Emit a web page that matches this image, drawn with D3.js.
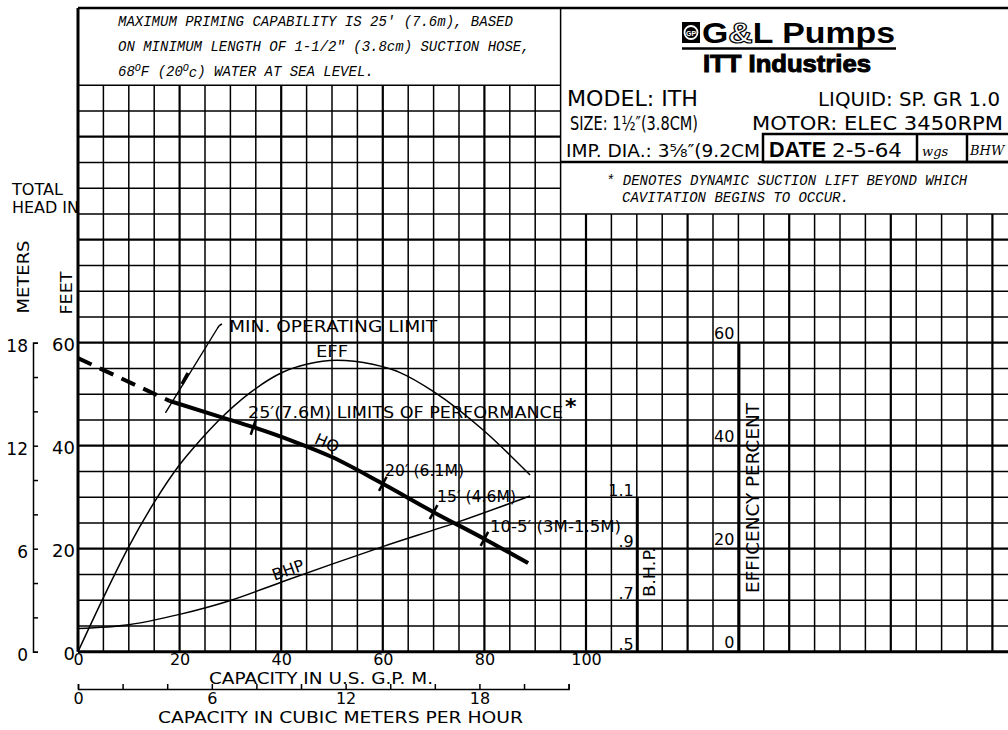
<!DOCTYPE html>
<html>
<head>
<meta charset="utf-8">
<script src="https://cdn.jsdelivr.net/npm/d3@7"></script>
<style>
  body { margin: 0; background: #fff; }
  text { fill: #000; }
</style>
</head>
<body>
<svg id="chart"></svg>
<script>
// ---- data ----
const hqDashGpm = [0, 18];
const hqDashFeet = [57, 48.7];
const hqGpm = [18, 28, 34.5, 42, 50, 60, 70, 80, 88.6];
const hqFeet = [48.7, 45.6, 43.6, 41.0, 37.8, 32.6, 27.1, 21.9, 17.2];
const effGpm = [0, 5, 10, 15, 20, 24, 27.3, 33.9, 40.4, 45, 50.9, 58, 63.4, 70, 79.8, 89];
const effPct = [0, 10.5, 20.4, 29, 36.3, 41, 44.5, 50.3, 54.3, 55.8, 56.6, 55.8, 54.2, 50.5, 43, 34.3];
const bhpGpm = [0, 10, 20, 30, 40, 50, 60, 75, 89];
const bhpHp = [0.59, 0.605, 0.645, 0.699, 0.77, 0.84, 0.908, 1.005, 1.105];
const limitGpm = [34.5, 60, 70, 80];   // suction lift marks on H-Q

const gpmTicks = [0, 20, 40, 60, 80, 100];
const feetTicks = [0, 20, 40, 60];
const meterTicks = [0, 2, 4, 6, 8, 10, 12, 14, 16, 18];
const meterLabels = [0, 6, 12, 18];
const m3Ticks = [0, 2, 4, 6, 8, 10, 12, 14, 16, 18, 20, 22];
const m3Labels = [0, 6, 12, 18];
const bhpTicks = [0.5, 0.7, 0.9, 1.1];
const effTicks = [0, 20, 40, 60];

const W = 1008, H = 730;
const LET = '"DejaVu Sans", sans-serif';
const MONO = '"Liberation Mono", monospace';

const svg = d3.select('#chart').attr('width', W).attr('height', H);
svg.append('rect').attr('width', W).attr('height', H).attr('fill', '#fff');

// scales
const x = d3.scaleLinear().domain([0, 100]).range([78, 586]);
const y = d3.scaleLinear().domain([0, 60]).range([651.7, 342.7]);
const yM = d3.scaleLinear().domain([0, 18]).range([y(0), y(60)]);
const yHp = d3.scaleLinear().domain([0.5, 1.1]).range([y(0), y(30)]);
const xM3 = d3.scaleLinear().domain([0, 22]).range([x(0), x(22 * 4.39)]);

// ---- graph paper ----
const grid = svg.append('g').attr('stroke', '#000').attr('fill', 'none');
d3.range(0, 37).forEach(c => {
  let top = c === 0 || c === 19 ? 125 : (c < 19 ? 110 : 85);
  grid.append('line')
    .attr('x1', x(c * 5)).attr('x2', x(c * 5))
    .attr('y1', y(0)).attr('y2', y(top))
    .attr('stroke-width', c === 0 ? 3 : (c % 4 === 0 ? 2.2 : 1.5));
});
d3.range(0, 26).forEach(r => {
  if (r === 23 || r === 24) return;
  let right = (r <= 17 || r === 25) ? W : x(95);
  grid.append('line')
    .attr('x1', x(0)).attr('x2', right)
    .attr('y1', y(r * 5)).attr('y2', y(r * 5))
    .attr('stroke-width', r === 0 ? 3 : (r === 25 ? 2.5 : (r % 4 === 0 ? 2.2 : 1.5)));
});

// ---- note box ----
const note = svg.append('g').attr('font-family', MONO).attr('font-style', 'italic').attr('font-size', 14);
note.append('text').attr('x', 118).attr('y', 26).text("MAXIMUM PRIMING CAPABILITY IS 25' (7.6m), BASED");
note.append('text').attr('x', 118).attr('y', 51).text('ON MINIMUM LENGTH OF 1-1/2" (3.8cm) SUCTION HOSE,');
let l3 = note.append('text').attr('x', 118).attr('y', 76);
l3.append('tspan').text('68');
l3.append('tspan').attr('dy', -5).attr('font-size', 10).text('O');
l3.append('tspan').attr('dy', 5).text('F (20');
l3.append('tspan').attr('dy', -5).attr('font-size', 10).text('O');
l3.append('tspan').attr('dy', 6).text('c');
l3.append('tspan').attr('dy', -1).text(') WATER AT SEA LEVEL.');

// ---- title block ----
const tb = svg.append('g');
// logo icon
tb.append('rect').attr('x', 682).attr('y', 22).attr('width', 18).attr('height', 21).attr('fill', '#000');
tb.append('circle').attr('cx', 691).attr('cy', 32.5).attr('r', 6.5).attr('fill', 'none').attr('stroke', '#fff').attr('stroke-width', 1.8);
tb.append('text').attr('x', 691).attr('y', 35.5).attr('text-anchor', 'middle')
  .attr('font-family', '"Liberation Sans", sans-serif').attr('font-size', 7).attr('font-weight', 'bold')
  .style('fill', '#fff').text('GP');
let logo = tb.append('text').attr('x', 702).attr('y', 43)
  .attr('font-family', '"Liberation Sans", Arial, sans-serif').attr('font-weight', 'bold').attr('font-size', 30)
  .attr('textLength', 193).attr('lengthAdjust', 'spacingAndGlyphs');
logo.append('tspan').text('G');
logo.append('tspan').style('fill', '#fff').attr('stroke', '#000').attr('stroke-width', 1.2).text('&');
logo.append('tspan').text('L Pumps');
tb.append('line').attr('x1', 682).attr('x2', 896).attr('y1', 48.5).attr('y2', 48.5).attr('stroke', '#000').attr('stroke-width', 2.5);
tb.append('text').attr('x', 703).attr('y', 72)
  .attr('font-family', '"Liberation Sans", Arial, sans-serif').attr('font-weight', 'bold').attr('font-size', 24)
  .attr('stroke', '#000').attr('stroke-width', 1)
  .attr('textLength', 168).attr('lengthAdjust', 'spacingAndGlyphs').text('ITT Industries');

// spec lines
const specs = [
  // [text, x, baseline, font size, width]
  ['MODEL: ITH', 567, 106, 22, 131],
  ['LIQUID: SP. GR 1.0', 818, 106, 20, 182],
  ['SIZE: 1½″(3.8CM)', 570, 130, 20, 128],
  ['MOTOR: ELEC  3450RPM', 752, 130, 20, 251],
  ['IMP. DIA.: 3⅝″(9.2CM', 566, 157, 17.5, 194]
];
const tbt = tb.append('g').attr('font-family', LET);
specs.forEach(([t, sx, sy, fs, w]) => {
  tbt.append('text').attr('x', sx).attr('y', sy).attr('font-size', fs)
    .attr('textLength', w).attr('lengthAdjust', 'spacingAndGlyphs').text(t);
});

// date box
const db = tb.append('g').attr('stroke', '#000').attr('fill', 'none');
db.append('rect').attr('x', 763).attr('y', 134).attr('width', W - 763 + 5).attr('height', 28).attr('stroke-width', 2.5);
db.append('line').attr('x1', 917).attr('x2', 917).attr('y1', 134).attr('y2', 162).attr('stroke-width', 2.5);
db.append('line').attr('x1', 967).attr('x2', 967).attr('y1', 134).attr('y2', 162).attr('stroke-width', 2.5);
tb.append('text').attr('x', 769).attr('y', 157).attr('font-family', '"Liberation Sans", sans-serif')
  .attr('font-weight', 'bold').attr('font-size', 22).attr('textLength', 57).attr('lengthAdjust', 'spacingAndGlyphs').text('DATE');
tb.append('text').attr('x', 832).attr('y', 157).attr('font-family', LET).attr('font-size', 20)
  .attr('textLength', 70).attr('lengthAdjust', 'spacingAndGlyphs').text('2-5-64');
tb.append('text').attr('x', 922).attr('y', 156).attr('font-family', '"DejaVu Serif", serif')
  .attr('font-style', 'italic').attr('font-size', 13).text('wgs');
tb.append('text').attr('x', 970).attr('y', 155).attr('font-family', '"DejaVu Serif", serif')
  .attr('font-style', 'italic').attr('font-size', 13).text('BHW');
tb.append('line').attr('x1', x(95)).attr('x2', W).attr('y1', 162).attr('y2', 162).attr('stroke', '#000').attr('stroke-width', 2.5);

const star = tb.append('g').attr('font-family', MONO).attr('font-style', 'italic').attr('font-size', 14);
star.append('text').attr('x', 606).attr('y', 185).text('* DENOTES DYNAMIC SUCTION LIFT BEYOND WHICH');
star.append('text').attr('x', 622).attr('y', 202).text('CAVITATION BEGINS TO OCCUR.');

// ---- axes ----
function styleAxis(sel, size) {
  sel.attr('font-family', LET).attr('font-size', size);
  sel.selectAll('text').style('fill', '#000');
  sel.selectAll('path, line').attr('stroke', '#000');
}

// meters
svg.append('g').attr('transform', 'translate(33,0)')
  .call(d3.axisLeft(yM).tickValues(meterTicks).tickSize(-5).tickPadding(5)
    .tickFormat(d => meterLabels.includes(d) ? d : ''))
  .call(s => styleAxis(s, 17))
  .call(s => s.selectAll('path, line').attr('stroke-width', 1.5))
  .call(s => s.selectAll('text').attr('dy', '0.5em'));

// feet
svg.append('g').attr('transform', `translate(${x(0)},0)`)
  .call(d3.axisLeft(y).tickValues(feetTicks).tickSize(0).tickPadding(3))
  .call(s => s.select('.domain').remove())
  .call(s => styleAxis(s, 18))
  .call(s => s.selectAll('text').attr('dy', '0.45em'));

// gpm
svg.append('g').attr('transform', `translate(0,${y(0)})`)
  .call(d3.axisBottom(x).tickValues(gpmTicks).tickSize(0).tickPadding(2))
  .call(s => s.select('.domain').remove())
  .call(s => styleAxis(s, 16));

// cubic meters per hour
svg.append('g').attr('transform', 'translate(0,689)')
  .call(d3.axisBottom(xM3).tickValues(m3Ticks).tickSize(-5).tickPadding(4)
    .tickFormat(d => m3Labels.includes(d) ? d : ''))
  .call(s => styleAxis(s, 16))
  .call(s => s.selectAll('path, line').attr('stroke-width', 1.5));

// bhp scale
svg.append('g').attr('transform', `translate(${x(110)},0)`)
  .call(d3.axisLeft(yHp).tickValues(bhpTicks).tickSize(0).tickPadding(3)
    .tickFormat(d => d === 1.1 ? '1.1' : d3.format('.1f')(d).slice(1)))
  .call(s => styleAxis(s, 16))
  .call(s => s.select('.domain').attr('stroke-width', 3))
  .call(s => s.selectAll('text').attr('dy', '-0.12em'));

// efficiency scale
svg.append('g').attr('transform', `translate(${x(130)},0)`)
  .call(d3.axisLeft(y).tickValues(effTicks).tickSize(0).tickPadding(4))
  .call(s => styleAxis(s, 16))
  .call(s => s.select('.domain').attr('stroke-width', 3))
  .call(s => s.selectAll('text').attr('dy', '-0.25em'));

// axis titles
const lab = svg.append('g').attr('font-family', LET).attr('font-size', 16);
lab.append('text').attr('x', 12).attr('y', 195).attr('textLength', 51).attr('lengthAdjust', 'spacingAndGlyphs').text('TOTAL');
lab.append('text').attr('x', 12).attr('y', 213).attr('textLength', 67).attr('lengthAdjust', 'spacingAndGlyphs').text('HEAD IN');
lab.append('text').attr('transform', 'translate(29,277) rotate(-90)').attr('text-anchor', 'middle')
  .attr('textLength', 73).attr('lengthAdjust', 'spacingAndGlyphs').text('METERS');
lab.append('text').attr('transform', 'translate(72,293) rotate(-90)').attr('text-anchor', 'middle')
  .attr('textLength', 43).attr('lengthAdjust', 'spacingAndGlyphs').text('FEET');
lab.append('text').attr('x', 209).attr('y', 684).attr('font-size', 15).attr('textLength', 224).attr('lengthAdjust', 'spacingAndGlyphs').text('CAPACITY  IN  U.S. G.P. M.');
lab.append('text').attr('x', 158).attr('y', 723).attr('textLength', 365).attr('lengthAdjust', 'spacingAndGlyphs').text('CAPACITY IN CUBIC METERS PER HOUR');
lab.append('text').attr('transform', 'translate(655,572) rotate(-90)').attr('text-anchor', 'middle')
  .attr('textLength', 50).attr('lengthAdjust', 'spacingAndGlyphs').text('B.H.P.');
lab.append('text').attr('transform', 'translate(759,498) rotate(-90)').attr('text-anchor', 'middle')
  .attr('font-size', 17).attr('textLength', 190).attr('lengthAdjust', 'spacingAndGlyphs').text('EFFICENCY  PERCENT');

// ---- curves ----
const curves = svg.append('g').attr('fill', 'none').attr('stroke', '#000');
const effLine = d3.line().curve(d3.curveMonotoneX).x((d, i) => x(effGpm[i])).y(d => y(d));
curves.append('path').attr('d', effLine(effPct)).attr('stroke-width', 1.5);
const bhpLine = d3.line().curve(d3.curveMonotoneX).x((d, i) => x(bhpGpm[i])).y(d => yHp(d));
curves.append('path').attr('d', bhpLine(bhpHp)).attr('stroke-width', 1.5);
const hqLine = d3.line().curve(d3.curveMonotoneX).x((d, i) => x(hqGpm[i])).y(d => y(d));
curves.append('path').attr('d', hqLine(hqFeet)).attr('stroke-width', 4);
const dashLine = d3.line().x((d, i) => x(hqDashGpm[i])).y(d => y(d));
curves.append('path').attr('d', dashLine(hqDashFeet)).attr('stroke-width', 4).attr('stroke-dasharray', '15,9');

// suction-lift marks across H-Q
const hqAt = d3.scaleLinear().domain(hqGpm).range(hqFeet);
limitGpm.forEach(q => {
  const px = x(q), py = y(hqAt(q));
  const dx = x(q + 1) - x(q - 1), dy = y(hqAt(q + 1)) - y(hqAt(q - 1));
  const len = Math.hypot(dx, dy), nx = -dy / len * 8, ny = dx / len * 8;
  curves.append('line').attr('x1', px - nx).attr('y1', py - ny).attr('x2', px + nx).attr('y2', py + ny)
    .attr('stroke-width', 2.5);
});

// min operating limit leader
const lx = x(hqGpm[0]) - 4, ly = y(hqFeet[0]) + 12;
curves.append('path').attr('d', `M222,324 Q219,325 217,329 L${lx},${ly}`).attr('stroke-width', 1.4);
curves.append('line').attr('x1', 182).attr('y1', 384).attr('x2', 188).attr('y2', 373).attr('stroke-width', 3.5);

// curve labels
const cl = svg.append('g').attr('font-family', LET).attr('font-size', 16);
cl.append('text').attr('x', 229).attr('y', 332).attr('textLength', 208).attr('lengthAdjust', 'spacingAndGlyphs').text('MIN. OPERATING LIMIT');
cl.append('text').attr('x', 316).attr('y', 357).attr('textLength', 32).attr('lengthAdjust', 'spacingAndGlyphs').text('EFF');
cl.append('text').attr('x', 248).attr('y', 418).attr('textLength', 315).attr('lengthAdjust', 'spacingAndGlyphs').text('25′(7.6M) LIMITS OF PERFORMANCE');
cl.append('text').attr('x', 565).attr('y', 414).attr('font-size', 22).attr('font-weight', 'bold').text('*');
cl.append('text').attr('transform', 'translate(327,443) rotate(24)').attr('text-anchor', 'middle').attr('dy', '0.35em').text('HQ');
cl.append('text').attr('transform', 'translate(288,570) rotate(-20)').attr('text-anchor', 'middle').attr('dy', '0.35em').text('BHP');
cl.append('text').attr('x', 385).attr('y', 476).attr('textLength', 79).attr('lengthAdjust', 'spacingAndGlyphs').text('20′ (6.1M)');
cl.append('text').attr('x', 437).attr('y', 502).attr('textLength', 79).attr('lengthAdjust', 'spacingAndGlyphs').text('15′ (4.6M)');
cl.append('text').attr('x', 490).attr('y', 532).attr('textLength', 131).attr('lengthAdjust', 'spacingAndGlyphs').text('10-5′ (3M-1.5M)');
</script>
</body>
</html>
